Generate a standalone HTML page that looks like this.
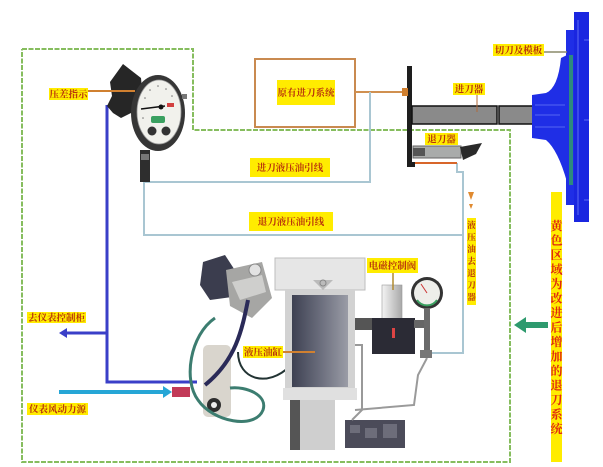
<!DOCTYPE html>
<html><head><meta charset="utf-8"><style>
html,body{margin:0;padding:0;background:#fff;}
svg{display:block;}
text{font-family:"Liberation Serif","Noto Serif CJK SC","Noto Sans CJK SC",serif;}
</style></head><body>
<svg width="603" height="467" viewBox="0 0 603 467" xmlns="http://www.w3.org/2000/svg">
<defs>
<linearGradient id="cyl" x1="0" x2="1" y1="0" y2="0">
<stop offset="0" stop-color="#3e4152"/><stop offset="0.5" stop-color="#6a6d7c"/><stop offset="1" stop-color="#9a9ca6"/>
</linearGradient>
<linearGradient id="silver" x1="0" x2="1"><stop offset="0" stop-color="#f4f4f4"/><stop offset="1" stop-color="#a8a8a8"/></linearGradient>
</defs>
<rect width="603" height="467" fill="#fff"/>

<polyline points="22,49 193,49 193,130 510,130 510,462 22,462 22,49" fill="none" stroke="#86bd5e" stroke-width="2" stroke-dasharray="5,1.5"/>

<rect x="255" y="59" width="100" height="68" fill="#fff" stroke="#c98a50" stroke-width="2"/>
<line x1="355" y1="92" x2="405" y2="92" stroke="#d09050" stroke-width="2"/>

<polyline points="370,92 370,182 144,182" fill="none" stroke="#a9c6d2" stroke-width="2"/>
<polyline points="144,182 144,235 462,235" fill="none" stroke="#a9c6d2" stroke-width="2"/>
<polyline points="457,163 457,172 463,172 463,353 425,353" fill="none" stroke="#a9c6d2" stroke-width="2"/>
<line x1="411" y1="163" x2="457" y2="163" stroke="#d8662a" stroke-width="2"/>

<polyline points="107,105 107,382 197,382" fill="none" stroke="#3a3fc8" stroke-width="3"/>
<line x1="66" y1="333" x2="107" y2="333" stroke="#3a3fc8" stroke-width="3"/>
<polygon points="59,333 67,328 67,338" fill="#3a3fc8"/>
<line x1="59" y1="392" x2="164" y2="392" stroke="#26a6d6" stroke-width="4"/>
<polygon points="172,392 163,386 163,398" fill="#26a6d6"/>

<rect x="407" y="66" width="5" height="101" fill="#1e1e1e"/>
<rect x="407" y="162" width="8" height="5" fill="#1e1e1e"/>
<rect x="402" y="88" width="6" height="8" fill="#d08030"/>
<rect x="412" y="106" width="85" height="18" fill="#8a8a8a" stroke="#111" stroke-width="1.5"/>
<rect x="499" y="106" width="34" height="18" fill="#8a8a8a" stroke="#111" stroke-width="1.5"/>
<line x1="477" y1="95" x2="477" y2="112" stroke="#b06a3a" stroke-width="1"/>

<rect x="413" y="146" width="48" height="12" fill="#a9abaa" stroke="#666" stroke-width="1"/>
<rect x="413" y="148" width="12" height="8" fill="#555"/>
<polygon points="460,147 482,143 476,154 463,160" fill="#2a2a2a"/>

<path d="M532,95 L546,93 Q558,88 561,58 L567,55 L567,182 Q558,150 546,140 L532,138 Z" fill="#1f2ee6"/>
<rect x="566" y="30" width="8" height="175" fill="#1f2ee6"/>
<rect x="574" y="12" width="15" height="210" fill="#1a26e0"/>
<rect x="569" y="55" width="4" height="130" fill="#2d8a7e"/>
<g stroke="#8a9cff" stroke-width="0.6" fill="none">
<line x1="535" y1="105" x2="565" y2="105"/><line x1="535" y1="115" x2="560" y2="115"/><line x1="535" y1="127" x2="565" y2="127"/>
<line x1="578" y1="20" x2="578" y2="215"/><line x1="584" y1="40" x2="589" y2="40"/><line x1="584" y1="120" x2="589" y2="120"/><line x1="584" y1="200" x2="589" y2="200"/>
</g>
<line x1="544" y1="52" x2="567" y2="52" stroke="#8a8a6a" stroke-width="1.5"/>

<polygon points="110,82 123,64 141,78 143,100 133,112 121,118 113,113 107,106 112,96" fill="#262626"/>
<ellipse cx="158" cy="113" rx="27" ry="38" fill="#363636"/>
<ellipse cx="159" cy="112" rx="22" ry="32" fill="#f1f1ec" stroke="#999" stroke-width="0.8"/>
<g fill="#777"><circle cx="150" cy="90" r="0.8"/><circle cx="158" cy="86" r="0.8"/><circle cx="166" cy="89" r="0.8"/><circle cx="172" cy="96" r="0.8"/><circle cx="145" cy="98" r="0.8"/><circle cx="143" cy="118" r="0.8"/></g>
<line x1="141" y1="109" x2="165" y2="106" stroke="#111" stroke-width="1.5"/>
<circle cx="161" cy="107" r="2.5" fill="#111"/>
<rect x="167" y="103" width="7" height="4" fill="#d24040"/>
<rect x="151" y="116" width="14" height="7" rx="2" fill="#3aa060"/>
<circle cx="152" cy="131" r="4.5" fill="#333"/><circle cx="166" cy="131" r="4.5" fill="#333"/>
<rect x="182" y="94" width="5" height="5" fill="#777"/>
<rect x="140" y="150" width="10" height="32" fill="#2e2e2e"/>
<rect x="141" y="154" width="8" height="6" fill="#777"/>
<line x1="88" y1="91" x2="135" y2="91" stroke="#d08030" stroke-width="2"/>

<polygon points="203,262 225,255 238,275 232,297 210,300 200,285" fill="#3b3d4e"/>
<polygon points="226,270 262,262 272,298 252,318 230,306" fill="#a6a6a4"/>
<polygon points="232,282 262,275 266,292 240,300" fill="#cfcfcd"/>
<circle cx="255" cy="270" r="6" fill="#e2e2e2" stroke="#888"/>
<rect x="203" y="345" width="28" height="72" rx="5" fill="#d9d5cd"/>
<circle cx="214" cy="405" r="7" fill="#2e2e2e"/><circle cx="214" cy="405" r="3" fill="#eee"/>
<path d="M215,318 C190,335 183,380 198,400 C213,422 255,430 263,410 C268,395 246,386 230,388" fill="none" stroke="#3c7d70" stroke-width="3"/>
<path d="M248,300 C242,330 236,360 205,385" fill="none" stroke="#2a2a58" stroke-width="4"/>
<path d="M238,352 C238,380 268,388 290,366" fill="none" stroke="#233" stroke-width="2"/>
<rect x="172" y="387" width="18" height="10" fill="#c23a58"/>

<rect x="275" y="258" width="90" height="32" fill="#e6e6e6" stroke="#bdbdbd"/>
<polygon points="313,280 333,280 323,290" fill="#bbb"/>
<circle cx="323" cy="283" r="3" fill="none" stroke="#888"/>
<rect x="285" y="290" width="70" height="103" fill="#d2d2d2"/>
<rect x="292" y="295" width="56" height="92" fill="url(#cyl)"/>
<rect x="283" y="388" width="74" height="12" fill="#e0e0e0"/>
<rect x="290" y="400" width="10" height="50" fill="#555"/>
<rect x="300" y="400" width="35" height="50" fill="#cfcfcf"/>
<rect x="345" y="420" width="60" height="28" fill="#4b4b59"/>
<g fill="#6d6d7a"><rect x="350" y="425" width="10" height="8"/><rect x="365" y="428" width="12" height="10"/><rect x="383" y="424" width="14" height="14"/></g>
<polyline points="355,345 362,345 362,410 352,420" fill="none" stroke="#999" stroke-width="2"/>
<line x1="283" y1="352" x2="315" y2="352" stroke="#d08030" stroke-width="2"/>

<rect x="382" y="285" width="20" height="35" fill="url(#silver)" stroke="#999" stroke-width="0.6"/>
<line x1="393" y1="273" x2="393" y2="290" stroke="#b08a30" stroke-width="1.5"/>
<rect x="355" y="318" width="20" height="12" fill="#555"/>
<rect x="372" y="318" width="43" height="36" fill="#2b2b35"/>
<rect x="392" y="328" width="3" height="10" fill="#d44"/>
<rect x="414" y="320" width="16" height="8" fill="#666"/>
<circle cx="427" cy="293" r="16" fill="#333"/>
<circle cx="427" cy="293" r="13" fill="#eeeeea"/>
<path d="M417,300 A12,12 0 0 0 437,300" fill="none" stroke="#3aa060" stroke-width="2"/>
<line x1="427" y1="293" x2="421" y2="284" stroke="#c33" stroke-width="1"/>
<rect x="424" y="308" width="6" height="50" fill="#6a6a6a"/>
<polyline points="427,358 418,375 414,405 355,410" fill="none" stroke="#9a9a9a" stroke-width="2"/>
<rect x="420" y="350" width="12" height="8" fill="#777"/>

<rect x="524" y="322" width="24" height="6" fill="#2e9a6e"/>
<polygon points="514,325 526,317 526,333" fill="#2e9a6e"/>

<path d="M468,192 L474,192 L471,200 Z" fill="#e08a30"/>
<path d="M469,204 L473,204 L471,209 Z" fill="#e08a30"/>

<g font-size="9.5" fill="#b8320c" text-anchor="middle" font-weight="bold">
<rect x="49" y="88" width="39" height="12" fill="#ffec00"/><text x="68.5" y="97.5">压差指示</text>
<rect x="277" y="80" width="58" height="25" fill="#ffec00"/><text x="306" y="96">原有进刀系统</text>
<rect x="250" y="158" width="80" height="19" fill="#ffec00"/><text x="290" y="171">进刀液压油引线</text>
<rect x="249" y="212" width="84" height="19" fill="#ffec00"/><text x="291" y="225">退刀液压油引线</text>
<rect x="493" y="44" width="51" height="12" fill="#ffec00"/><text x="518.5" y="53.5">切刀及模板</text>
<rect x="453" y="83" width="32" height="12" fill="#ffec00"/><text x="469" y="92.5">进刀器</text>
<rect x="425" y="133" width="33" height="12" fill="#ffec00"/><text x="441.5" y="142.5">退刀器</text>
<rect x="367" y="258" width="51" height="15" fill="#ffec00"/><text x="392.5" y="269">电磁控制阀</text>
<rect x="243" y="346" width="40" height="12" fill="#ffec00"/><text x="263" y="355.5">液压油缸</text>
<rect x="27" y="312" width="59" height="11" fill="#ffec00"/><text x="56.5" y="321">去仪表控制柜</text>
<rect x="27" y="403" width="61" height="12" fill="#ffec00"/><text x="57.5" y="412.5">仪表风动力源</text>
</g>
<rect x="467" y="218" width="9" height="87" fill="#ffec00"/>
<g font-size="8.5" fill="#b8320c" text-anchor="middle" font-weight="bold">
<text x="471.5" y="228">液</text><text x="471.5" y="240">压</text><text x="471.5" y="252">油</text><text x="471.5" y="264">去</text><text x="471.5" y="276">退</text><text x="471.5" y="288">刀</text><text x="471.5" y="300">器</text>
</g>
<rect x="551" y="192" width="11" height="270" fill="#ffec00"/>
<g font-size="12" fill="#e02a10" text-anchor="middle" font-weight="bold">
<text x="556.5" y="230">黄</text><text x="556.5" y="244.5">色</text><text x="556.5" y="259">区</text><text x="556.5" y="273.5">域</text><text x="556.5" y="288">为</text><text x="556.5" y="302.5">改</text><text x="556.5" y="317">进</text><text x="556.5" y="331.5">后</text><text x="556.5" y="346">增</text><text x="556.5" y="360.5">加</text><text x="556.5" y="375">的</text><text x="556.5" y="389.5">退</text><text x="556.5" y="404">刀</text><text x="556.5" y="418.5">系</text><text x="556.5" y="433">统</text>
</g>
</svg>
</body></html>
